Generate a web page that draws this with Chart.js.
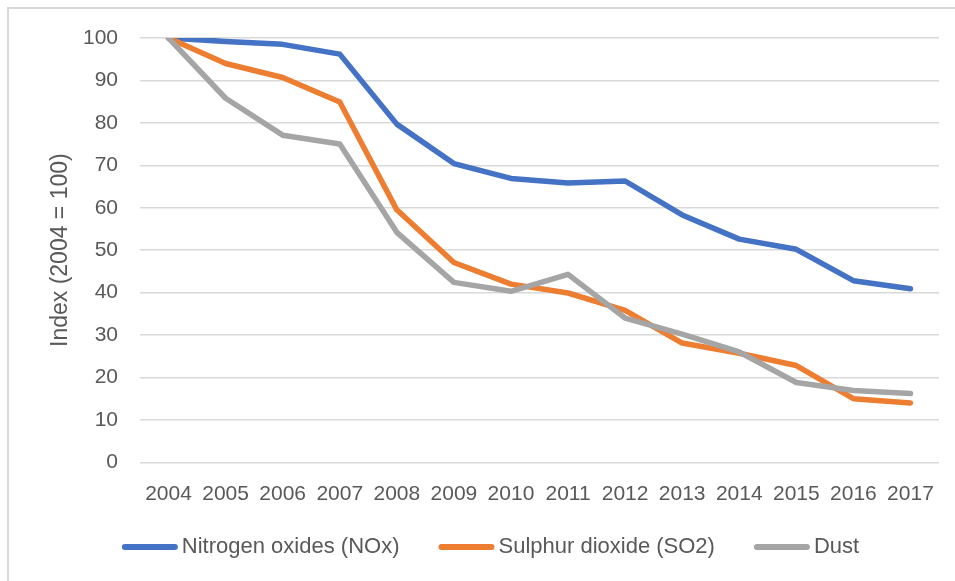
<!DOCTYPE html>
<html>
<head>
<meta charset="utf-8">
<script src="https://cdn.jsdelivr.net/npm/chart.js@4"></script>
<style>
  html, body { margin: 0; padding: 0; background: #ffffff; }
  #wrap { position: relative; width: 955px; height: 581px; }
  canvas { display: block; }
</style>
</head>
<body>
<div id="wrap"><canvas id="c" width="955" height="581"></canvas></div>
<script>
const years = ['2004','2005','2006','2007','2008','2009','2010','2011','2012','2013','2014','2015','2016','2017'];
const noxValues = [100, 99.2, 98.5, 96.2, 79.7, 70.4, 66.9, 65.8, 66.3, 58.3, 52.6, 50.2, 42.8, 40.9];
const so2Values = [100, 94.0, 90.7, 84.9, 59.5, 47.1, 42.0, 39.9, 35.8, 28.1, 25.7, 22.8, 15.0, 14.0];
const dustValues = [100, 85.8, 77.1, 75.0, 54.2, 42.4, 40.3, 44.3, 34.0, 30.2, 26.0, 18.8, 16.9, 16.2];
const seriesLabels = ['Nitrogen oxides (NOx)', 'Sulphur dioxide (SO2)', 'Dust'];
const seriesColors = ['#4472C4', '#ED7D31', '#A5A5A5'];
const yTitle = 'Index (2004 = 100)';

const FONT = "'Liberation Sans', Arial, sans-serif";
const TEXT = '#595959';

const framePlugin = {
  id: 'frame',
  beforeDraw(chart) {
    const ctx = chart.ctx;
    ctx.save();
    ctx.fillStyle = '#ffffff';
    ctx.fillRect(0, 0, chart.width, chart.height);
    ctx.strokeStyle = '#d9d9d9';
    ctx.lineWidth = 2;
    ctx.strokeRect(8, 8, chart.width + 20, chart.height + 20);
    ctx.restore();
  }
};

const legendPlugin = {
  id: 'customLegend',
  afterDraw(chart) {
    const ctx = chart.ctx;
    ctx.save();
    ctx.font = '22px ' + FONT;
    const lineLen = 56, gapText = 4, gapItem = 39;
    const items = chart.data.datasets.map(ds => ({ label: ds.label, color: ds.borderColor, w: ctx.measureText(ds.label).width }));
    let total = 0;
    items.forEach((it, i) => { total += lineLen + gapText + it.w + (i < items.length - 1 ? gapItem : 0); });
    let x = 490.5 - total / 2;
    const y = 547;
    items.forEach(it => {
      ctx.strokeStyle = it.color;
      ctx.lineWidth = 6;
      ctx.lineCap = 'round';
      ctx.beginPath();
      ctx.moveTo(x + 3, y);
      ctx.lineTo(x + lineLen - 3, y);
      ctx.stroke();
      ctx.fillStyle = TEXT;
      ctx.textBaseline = 'middle';
      ctx.textAlign = 'left';
      ctx.fillText(it.label, x + lineLen + gapText, y);
      x += lineLen + gapText + it.w + gapItem;
    });
    ctx.restore();
  }
};

const allSeries = [noxValues, so2Values, dustValues];
const datasets = allSeries.map((vals, i) => ({
  label: seriesLabels[i],
  data: vals,
  borderColor: seriesColors[i],
  backgroundColor: seriesColors[i],
  borderWidth: 5.5,
  pointRadius: 0,
  pointHoverRadius: 0,
  tension: 0,
  borderCapStyle: 'round',
  borderJoinStyle: 'round',
  fill: false,
  order: allSeries.length - i
}));

new Chart(document.getElementById('c'), {
  type: 'line',
  data: { labels: years, datasets },
  options: {
    responsive: false,
    animation: false,
    devicePixelRatio: 1,
    layout: { padding: { top: 38, right: 16, bottom: 0, left: 0 } },
    plugins: { legend: { display: false }, tooltip: { enabled: false } },
    scales: {
      x: {
        offset: true,
        grid: { display: false, drawTicks: false },
        border: { display: false },
        ticks: { color: TEXT, font: { family: FONT, size: 21 }, padding: 19, maxRotation: 0, autoSkip: false },
        afterFit(scale) { scale.height = 581 - 462.3; }
      },
      y: {
        min: 0, max: 100,
        ticks: { stepSize: 10, color: TEXT, font: { family: FONT, size: 21 }, padding: 22 },
        grid: { color: '#d9d9d9', lineWidth: 1.5, drawTicks: false },
        border: { display: false },
        title: { display: true, text: yTitle, color: TEXT, font: { family: FONT, size: 23 }, padding: { top: 47, bottom: 0 } },
        afterFit(scale) { scale.width = 140; }
      }
    }
  },
  plugins: [framePlugin, legendPlugin]
});
</script>
</body>
</html>
